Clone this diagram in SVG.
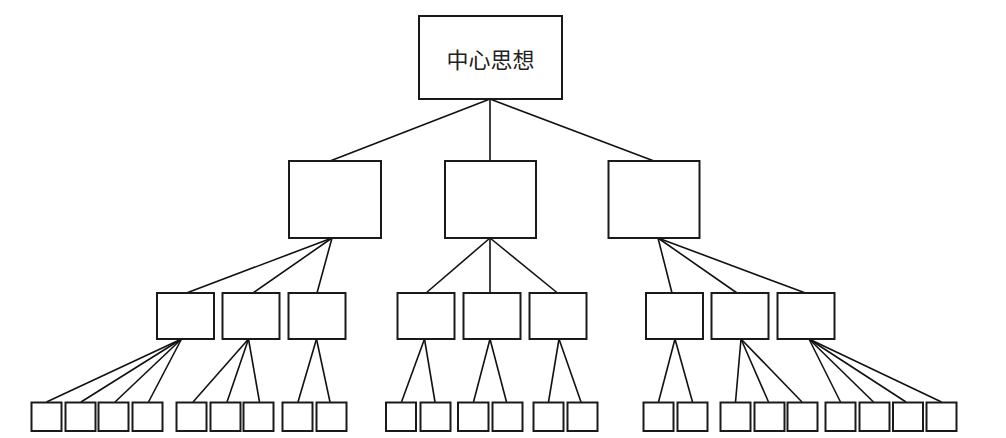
<svg xmlns="http://www.w3.org/2000/svg" width="1006" height="438" viewBox="0 0 1006 438">
<style>
rect{fill:#fff;stroke:#1a1a1a;stroke-width:2}
.c line{stroke:#111;stroke-width:1.6}
text{font-family:"Noto Sans CJK SC","Liberation Sans",sans-serif;font-size:22px;fill:#222}
</style>
<rect x="0" y="0" width="1006" height="438" style="stroke:none"/>
<g class="c" id="connectors">
<line x1="490" y1="99" x2="330" y2="161"/>
<line x1="490" y1="99" x2="490" y2="161"/>
<line x1="490" y1="99" x2="654" y2="161"/>
<line x1="332" y1="238" x2="186.5" y2="293"/>
<line x1="332" y1="238" x2="253" y2="293"/>
<line x1="332" y1="238" x2="317" y2="293"/>
<line x1="490" y1="238" x2="426" y2="293"/>
<line x1="490" y1="238" x2="490" y2="293"/>
<line x1="490" y1="238" x2="557.5" y2="293"/>
<line x1="658" y1="238" x2="672" y2="293"/>
<line x1="658" y1="238" x2="737" y2="293"/>
<line x1="658" y1="238" x2="805.5" y2="293"/>
<line x1="181.5" y1="339" x2="46.5" y2="402"/>
<line x1="181.5" y1="339" x2="81" y2="402"/>
<line x1="181.5" y1="339" x2="115" y2="402"/>
<line x1="181.5" y1="339" x2="148.5" y2="402"/>
<line x1="248.5" y1="339" x2="193" y2="402"/>
<line x1="248.5" y1="339" x2="227" y2="402"/>
<line x1="248.5" y1="339" x2="259.5" y2="402"/>
<line x1="316.5" y1="339" x2="298" y2="402"/>
<line x1="316.5" y1="339" x2="330" y2="402"/>
<line x1="424.5" y1="339" x2="401.5" y2="402"/>
<line x1="424.5" y1="339" x2="435" y2="402"/>
<line x1="490" y1="339" x2="473.5" y2="402"/>
<line x1="490" y1="339" x2="506.5" y2="402"/>
<line x1="559" y1="339" x2="548.5" y2="402"/>
<line x1="559" y1="339" x2="581" y2="402"/>
<line x1="675" y1="339" x2="658.5" y2="402"/>
<line x1="675" y1="339" x2="692.5" y2="402"/>
<line x1="741" y1="339" x2="735.5" y2="402"/>
<line x1="741" y1="339" x2="768.5" y2="402"/>
<line x1="741" y1="339" x2="802" y2="402"/>
<line x1="809" y1="339" x2="840.5" y2="402"/>
<line x1="809" y1="339" x2="873.5" y2="402"/>
<line x1="809" y1="339" x2="906" y2="402"/>
<line x1="809" y1="339" x2="941.5" y2="402"/>
</g>
<g id="root"><rect x="419" y="16" width="143" height="83"/><text x="490.5" y="57.5" text-anchor="middle" dominant-baseline="central">中心思想</text></g>
<g id="n1"><rect x="289" y="161" width="92" height="77"/></g>
<g id="n2"><rect x="445" y="161" width="91" height="77"/></g>
<g id="n3"><rect x="608.5" y="161" width="91" height="77"/></g>
<g id="n1a"><rect x="157" y="293" width="57" height="46"/></g>
<g id="n1b"><rect x="222.5" y="293" width="57" height="46"/></g>
<g id="n1c"><rect x="288.5" y="293" width="57" height="46"/></g>
<g id="n2a"><rect x="397.5" y="293" width="57" height="46"/></g>
<g id="n2b"><rect x="463.5" y="293" width="57" height="46"/></g>
<g id="n2c"><rect x="529.5" y="293" width="57" height="46"/></g>
<g id="n3a"><rect x="646" y="293" width="57" height="46"/></g>
<g id="n3b"><rect x="711.5" y="293" width="57" height="46"/></g>
<g id="n3c"><rect x="777.5" y="293" width="57" height="46"/></g>
<g id="l1"><rect x="31.5" y="402.5" width="30" height="28.5"/></g>
<g id="l2"><rect x="65.5" y="402.5" width="30" height="28.5"/></g>
<g id="l3"><rect x="98.5" y="402.5" width="30" height="28.5"/></g>
<g id="l4"><rect x="132.5" y="402.5" width="30" height="28.5"/></g>
<g id="l5"><rect x="176.5" y="402.5" width="30" height="28.5"/></g>
<g id="l6"><rect x="210.5" y="402.5" width="30" height="28.5"/></g>
<g id="l7"><rect x="243.5" y="402.5" width="30" height="28.5"/></g>
<g id="l8"><rect x="282.5" y="402.5" width="30" height="28.5"/></g>
<g id="l9"><rect x="316.5" y="402.5" width="30" height="28.5"/></g>
<g id="l10"><rect x="386" y="402.5" width="30" height="28.5"/></g>
<g id="l11"><rect x="420.5" y="402.5" width="30" height="28.5"/></g>
<g id="l12"><rect x="458" y="402.5" width="30.5" height="28.5"/></g>
<g id="l13"><rect x="492.5" y="402.5" width="30" height="28.5"/></g>
<g id="l14"><rect x="533.5" y="402.5" width="30" height="28.5"/></g>
<g id="l15"><rect x="567.5" y="402.5" width="30" height="28.5"/></g>
<g id="l16"><rect x="643.5" y="402.5" width="30" height="28.5"/></g>
<g id="l17"><rect x="677.5" y="402.5" width="30" height="28.5"/></g>
<g id="l18"><rect x="720.5" y="402.5" width="30" height="28.5"/></g>
<g id="l19"><rect x="754.5" y="402.5" width="30" height="28.5"/></g>
<g id="l20"><rect x="787.5" y="402.5" width="30" height="28.5"/></g>
<g id="l21"><rect x="825.5" y="402.5" width="30" height="28.5"/></g>
<g id="l22"><rect x="859.5" y="402.5" width="30" height="28.5"/></g>
<g id="l23"><rect x="893" y="402.5" width="30" height="28.5"/></g>
<g id="l24"><rect x="926.5" y="402.5" width="30" height="28.5"/></g>
</svg>
